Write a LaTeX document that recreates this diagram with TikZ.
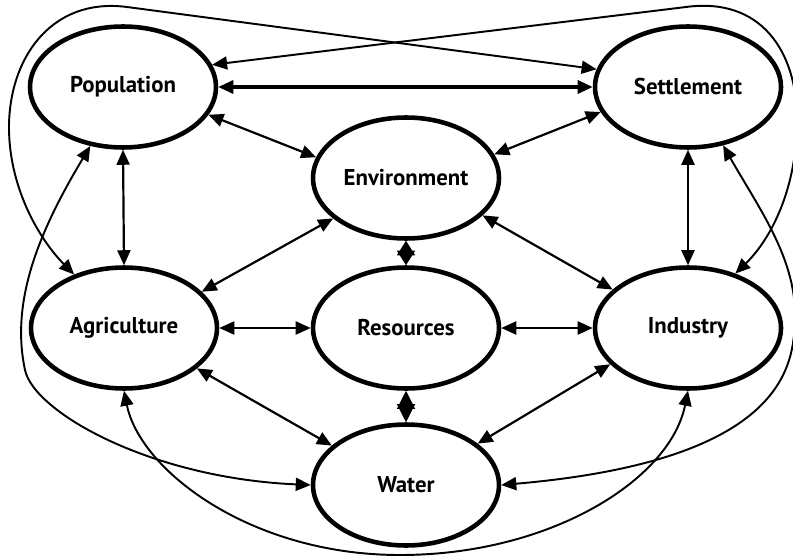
\documentclass[tikz,border=0pt]{standalone}
\usepackage{fontspec}
\setmainfont{PT Sans}
\usepackage{tikz}
\usetikzlibrary{arrows.meta}
\usetikzlibrary{shapes.geometric}

\tikzset{
  factor/.style={ellipse, draw, line width=2.6pt, inner sep=0pt,
    minimum width=3.72cm, minimum height=2.42cm,
    font=\bfseries\fontsize{13}{15}\selectfont},
  tie/.style={{Triangle[length=0.3cm, width=0.26cm]}-{Triangle[length=0.3cm, width=0.26cm]},
    line width=1.25pt},
  bigtie/.style={tie, line width=1.8pt},
  looptie/.style={tie, line width=1.1pt},
  lock/.style={{Triangle[length=#1, width=0.36cm]}-{Triangle[length=#1, width=0.36cm]},
    line width=0.6pt}
}

\begin{document}
\begin{tikzpicture}[x=0.02cm, y=-0.02cm]

  %% Page size.
  \useasboundingbox (0,0) rectangle (793,557);

  %% The factors:
  \node[factor] (pop) at (123,87) {Population};
  \node[factor] (set) at (688,87) {Settlement};
  \node[factor] (env) at (406,178) {Environment};
  \node[factor] (agr) at (124,328) {Agriculture};
  \node[factor] (res) at (406,328) {Resources};
  \node[factor] (ind) at (688,328) {Industry};
  \node[factor] (wat) at (406,485) {Water};

  %% The straight links:
  \draw[bigtie] (pop.east) -- (set.west);
  \draw[tie] (pop.-18) -- (env.167);
  \draw[tie] (set.196) -- (env.15);
  \draw[tie] (pop.south) -- (agr.north);
  \draw[tie] (set.south) -- (ind.north);
  \draw[tie] (env.209) -- (agr.25);
  \draw[tie] (env.-26) -- (ind.153);
  \draw[tie] (agr.east) -- (res.west);
  \draw[tie] (res.east) -- (ind.west);
  \draw[tie] (agr.-29) -- (wat.152);
  \draw[tie] (ind.205) -- (wat.30);

  %% The short ones round the resources:
  \draw[lock=0.29cm] (env.south) -- (res.north);
  \draw[lock=0.36cm] (res.south) -- (wat.north);

  %% The long loops over the top:
  \draw[looptie] (pop.14) -- (686,7)
  .. controls (760,-3) and (797,50) .. (797,120)
  .. controls (797,190) and (770,240) .. (ind.49);
  \draw[looptie] (set.169) -- (127,7)
  .. controls (50,-3) and (8,60) .. (9,130)
  .. controls (10,190) and (40,240) .. (agr.133);

  %% The loops down to the water:
  \draw[looptie] (pop.241)
  .. controls (40,230) and (10,300) .. (25,370)
  .. controls (34,412) and (150,478) .. (wat.west);
  \draw[looptie] (set.-59)
  .. controls (760,210) and (797,260) .. (795,320)
  .. controls (793,362) and (790,460) .. (wat.east);

  %% The loop under the bottom:
  \draw[looptie] (agr.south)
  .. controls (140,470) and (250,555) .. (400,555)
  .. controls (550,555) and (670,480) .. (ind.south);

\end{tikzpicture}
\end{document}
